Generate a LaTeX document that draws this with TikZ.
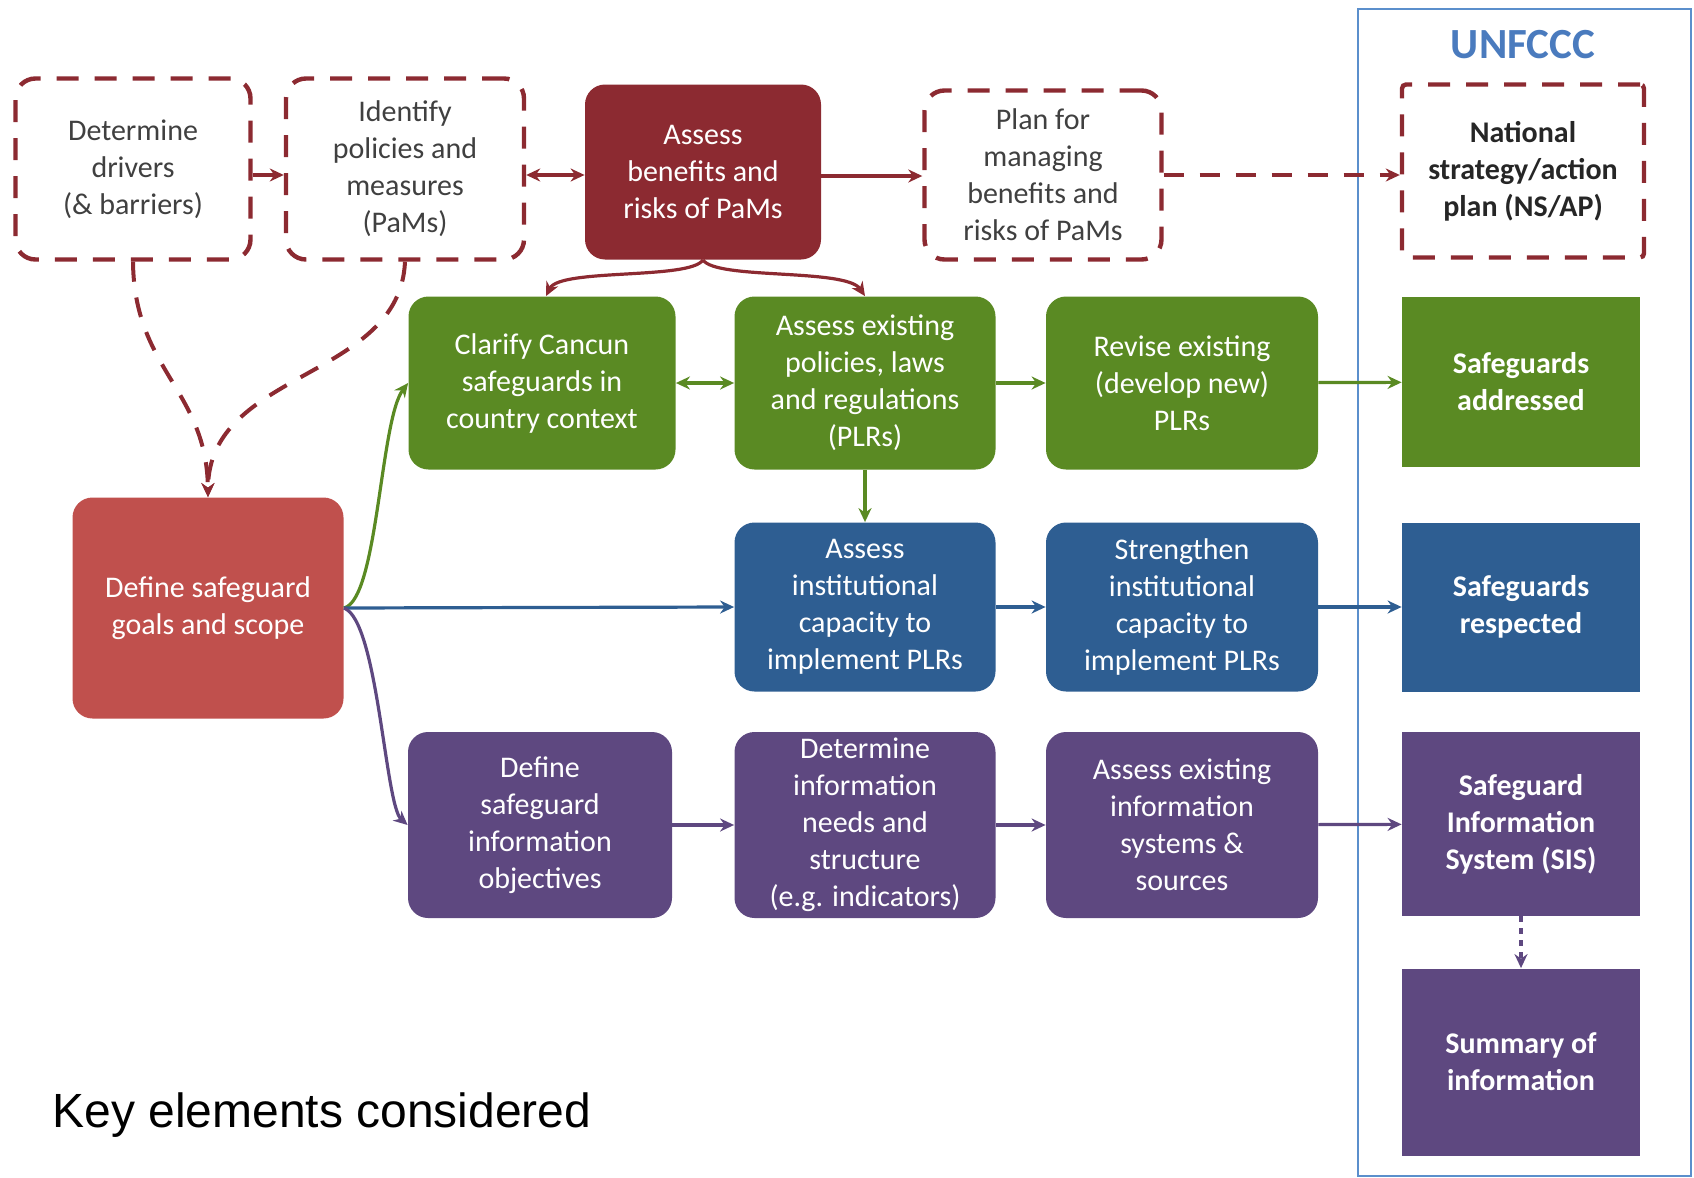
\documentclass[tikz,border=0pt]{standalone}
\usepackage{fontspec}
\setmainfont{Carlito}
\newfontfamily\keyfont{Liberation Sans}
\usepackage{tikz}
\usetikzlibrary{arrows.meta,positioning}
\definecolor{pamred}{HTML}{8C2A31}
\definecolor{goalred}{HTML}{C0504D}
\definecolor{sgreen}{HTML}{5A8A23}
\definecolor{sblue}{HTML}{2E5E92}
\definecolor{spurple}{HTML}{5E4880}
\definecolor{unblue}{HTML}{5B8FCC}
\definecolor{untext}{HTML}{4A7BBE}
\definecolor{txtgray}{HTML}{404040}

\begin{document}
\begin{tikzpicture}[x=0.5pt, y=-0.5pt,
  txt/.style={align=center, font=\fontsize{15}{18.5}\selectfont, inner sep=2pt},
  plan/.style={txt, draw=pamred, line width=2.2pt, dash pattern=on 11pt off 8pt,
               rounded corners=10pt, text=txtgray},
  proc/.style={txt, rounded corners=10pt, text=white},
  outc/.style={txt, text=white, font=\bfseries\fontsize{15}{18.5}\selectfont},
  link/.style={line width=1.6pt, -{Stealth[length=7pt,width=6.5pt]}},
  dlink/.style={line width=1.6pt, {Stealth[length=7pt,width=6.5pt]}-{Stealth[length=7pt,width=6.5pt]}},
  dlinkd/.style={link, line width=2pt, dash pattern=on 10pt off 8pt}
]
\useasboundingbox (0,0) rectangle (1694,1178);
% UNFCCC frame
\node[draw=unblue, line width=1.2pt, minimum width=166.5pt, minimum height=583.5pt, inner sep=0pt] (frame) at (1524.5,592.5) {};
\node[text=untext, font=\bfseries\fontsize{21.5}{25}\selectfont] (title) at (1523,45) {UNFCCC};
% Top row
\node[plan, minimum width=117.5pt, minimum height=90.5pt] (drivers) at (133,169) {Determine\\drivers\\(\& barriers)};
\node[plan, minimum width=119pt, minimum height=90.5pt] (pams) at (405,169) {Identify\\policies and\\measures\\(PaMs)};
\node[proc, fill=pamred, minimum width=118pt, minimum height=87.5pt] (bene) at (703,172) {Assess\\benefits and\\risks of PaMs};
\node[plan, minimum width=118.5pt, minimum height=84.5pt] (manage) at (1043,175) {Plan for\\managing\\benefits and\\risks of PaMs};
\node[plan, rounded corners=2pt, text=black!85, font=\bfseries\fontsize{15}{18.5}\selectfont,
      minimum width=121pt, minimum height=86.5pt] (nsap) at (1523,171) {National\\strategy/action\\plan (NS/AP)};
% Goals
\node[proc, fill=goalred, minimum width=135.5pt, minimum height=110.5pt] (goals) at (208,608) {Define safeguard\\goals and scope};
% Green row
\node[proc, fill=sgreen, minimum width=133.5pt, minimum height=86.5pt] (clarify) at (542,383) {Clarify Cancun\\safeguards in\\country context};
\node[proc, fill=sgreen, minimum width=130.5pt, minimum height=86.5pt] (exist) at (865,383) {Assess existing\\policies, laws\\and regulations\\(PLRs)};
\node[proc, fill=sgreen, minimum width=136pt, minimum height=86.5pt] (revise) at (1182,383) {Revise existing\\(develop new)\\PLRs};
\node[outc, fill=sgreen, minimum width=119pt, minimum height=85pt] (addr) at (1521,382) {Safeguards\\addressed};
% Blue row
\node[proc, fill=sblue, minimum width=130.5pt, minimum height=84.5pt] (inst) at (865,607) {Assess\\institutional\\capacity to\\implement PLRs};
\node[proc, fill=sblue, minimum width=136pt, minimum height=84.5pt] (streng) at (1182,607) {Strengthen\\institutional\\capacity to\\implement PLRs};
\node[outc, fill=sblue, minimum width=119pt, minimum height=84.5pt] (resp) at (1521,607) {Safeguards\\respected};
% Purple row
\node[proc, fill=spurple, minimum width=132pt, minimum height=93pt] (infoobj) at (540,825) {Define\\safeguard\\information\\objectives};
\node[proc, fill=spurple, minimum width=130.5pt, minimum height=93pt] (needs) at (865,825) {Determine\\information\\needs and\\structure\\(e.g. indicators)};
\node[proc, fill=spurple, minimum width=136pt, minimum height=93pt] (sources) at (1182,825) {Assess existing\\information\\systems \&\\sources};
\node[outc, fill=spurple, minimum width=119pt, minimum height=92pt] (sis) at (1521,824) {Safeguard\\Information\\System (SIS)};
\node[outc, fill=spurple, minimum width=119pt, minimum height=93.5pt] (summary) at (1521,1062) {Summary of\\information};
% Caption
\node[anchor=base west, inner sep=0pt, font=\keyfont\fontsize{24}{28}\selectfont] (key) at (52,1127) {Key elements considered};
% Connections
\draw[link, pamred] ([yshift=-3pt]drivers.east) -- ([yshift=-3pt]pams.west);
\draw[dlink, pamred] ([yshift=-3pt]pams.east) -- ([yshift=-3pt]pams.east -| bene.west);
\draw[link, pamred] ([yshift=-2pt]bene.east) -- ([yshift=-2pt]bene.east -| manage.west);
\draw[dlinkd, pamred] (manage.east) -- (manage.east -| nsap.west);
\draw[dlinkd, pamred] (drivers.south) .. controls (134,370) and (207,390) .. (goals.north);
\draw[dlinkd, pamred] (pams.south) .. controls (400,380) and (208,370) .. (goals.north);
\draw[link, pamred] (bene.south) .. controls (690,280) and (560,268) .. ([xshift=2pt]clarify.north);
\draw[link, pamred] (bene.south) .. controls (716,280) and (846,268) .. (exist.north);
\draw[link, sgreen] (goals.east) .. controls (378,600) and (380,420) .. (clarify.west);
\draw[link, sblue] (goals.east) -- (inst.west);
\draw[link, spurple] (goals.east) .. controls (378,620) and (385,805) .. (infoobj.west);
\draw[dlink, sgreen] (clarify) -- (exist);
\draw[link, sgreen] (exist) -- (revise);
\draw[link, sgreen] (revise) -- (addr);
\draw[link, sgreen] (exist) -- (inst);
\draw[link, sblue] (inst) -- (streng);
\draw[link, sblue] (streng) -- (resp);
\draw[link, spurple] (infoobj) -- (needs);
\draw[link, spurple] (needs) -- (sources);
\draw[link, spurple] (sources) -- (sis);
\draw[link, spurple, dash pattern=on 3pt off 3pt] (sis) -- (summary);
\end{tikzpicture}
\end{document}
